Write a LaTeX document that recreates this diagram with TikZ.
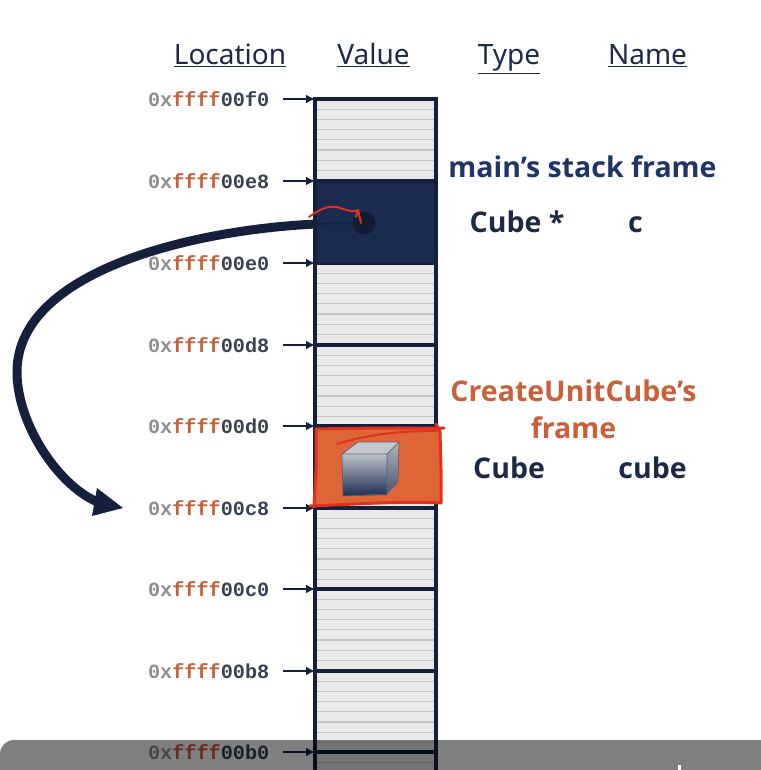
\documentclass[tikz,border=0pt]{standalone}
\usepackage{fontspec}
\usetikzlibrary{arrows.meta,calc,shapes.geometric}
\setmainfont{Noto Sans}
\newfontfamily\addrfont{Liberation Mono}
\newfontfamily\labfont{Open Sans}
\definecolor{navy}{HTML}{1A2B4F}
\definecolor{inknavy}{HTML}{14203C}
\definecolor{titleblue}{HTML}{1F3468}
\definecolor{rust}{HTML}{C9603A}
\definecolor{scribble}{HTML}{E0301E}
\definecolor{fillorange}{HTML}{DE6535}
\definecolor{cellgrey}{HTML}{E9E9E9}
\definecolor{lineg}{HTML}{C6C6C6}
\definecolor{txtdark}{HTML}{1E2A45}
\definecolor{addrdark}{HTML}{3A4252}
\definecolor{addrgrey}{HTML}{8E8E8E}
\definecolor{cubetop}{HTML}{C4C8CE}
\definecolor{cubehi}{HTML}{BDC2C9}
\definecolor{cubelo}{HTML}{1E2E52}
\definecolor{cubesidehi}{HTML}{B0B5BC}
\definecolor{cubesidelo}{HTML}{4A5670}
\tikzset{
  cellbox/.style={draw=inknavy,line width=3.2pt,fill=cellgrey,minimum width=121pt,minimum height=81.5pt,inner sep=0pt,outer sep=0pt},
  addr/.style={font=\addrfont\bfseries\fontsize{20.2}{21}\selectfont,anchor=east,inner sep=0pt},
  ptr/.style={-{Latex[length=9pt,width=9pt]},draw=inknavy,line width=2pt},
  head/.style={font=\fontsize{28}{32}\selectfont,text=txtdark,inner sep=0pt,anchor=base},
  lab/.style={font=\labfont\bfseries\fontsize{28.5}{32}\selectfont,text=txtdark,inner sep=0pt,anchor=base},
  ruled/.style={draw=lineg,line width=1.3pt},
  redpen/.style={draw=scribble,line width=1.6pt,line cap=round,line join=round}
}
\newcommand{\addrtext}[1]{{\color{addrgrey}0x}{\color{rust}ffff}{\color{addrdark}#1}}
\begin{document}
\begin{tikzpicture}[x=1pt,y=-1pt]
\useasboundingbox (0,0) rectangle (760,770);
\fill[white] (0,0) rectangle (760,770);
% header
\node[head] (hloc) at (230,65) {\underline{Location}};
\node[head] (hval) at (373.5,65) {\underline{Value}};
\node[head] (htyp) at (509,65) {\underline{Type}};
\node[head] (hnam) at (647.5,65) {\underline{Name}};
% cells
\foreach \i/\ya in {0/99,1/181,2/263,3/345,4/426,5/508,6/589,7/671,8/752}{
  \pgfmathsetmacro{\ym}{\ya+40.75}
  \node[cellbox] (c\i) at (375.5,\ym) {};
  \foreach \k in {1,...,7}{
    \draw[ruled] (317,\ya+\k*10.2) -- (434,\ya+\k*10.2);
  }
}
% navy frame
\node[cellbox,fill=navy,minimum height=82pt] (mainf) at (375.5,222.5) {};
% orange frame, painted over the cell
\node[cellbox,fill=cellgrey,minimum height=81pt] (cubef) at (375.5,467) {};
\fill[fillorange,line join=round] (314,505) -- (316,470) -- (316,429) .. controls (360,428) and (400,428) .. (441,428) -- (441,470) -- (441,503) .. controls (400,500) and (360,504) .. (314,505) -- cycle;
% re-draw top edge
\draw[inknavy,line width=3.6pt] (c0.north west) -- (c0.north east);
% addresses
\foreach \i/\ya/\t in {0/99/00f0,1/181/00e8,2/263/00e0,3/345/00d8,4/426/00d0,5/508/00c8,6/589/00c0,7/671/00b8,8/752/00b0}{
  \node[addr] (a\i) at (269.5,\ya+0.5) {\addrtext{\t}};
  \coordinate (t\i) at (315,\ya);
  \draw[ptr] (283,\ya) -- (t\i);
}
% red marks on cube frame
\draw[redpen,line width=3pt] (314,507) -- (316,470) -- (316,429) .. controls (360,428) and (400,428) .. (444,428);
\draw[redpen,line width=3pt] (436,424) -- (440,432) -- (441,470) -- (441,503) (310,506) .. controls (360,504) and (400,501) .. (441,503);
% cube
\shade[top color=cubehi,bottom color=cubelo] (342,454) -- (387,454) -- (387,495) -- (343,496) -- cycle;
\fill[cubetop] (342,454) -- (358,442) -- (399,442) -- (387,454) -- cycle;
\shade[top color=cubesidehi,bottom color=cubesidelo] (387,454) -- (399,442) -- (398,482) -- (387,494) -- cycle;
\draw[inknavy!70,line width=.7pt,line join=round] (342,454) -- (358,442) -- (399,442) -- (398,482) -- (387,494) -- (343,496) -- cycle (342,454) -- (387,454) -- (399,442) (387,454) -- (387,494);
\draw[redpen,line width=2pt] (337,444) .. controls (370,434) and (400,431) .. (436,431);
% pointer
\node[circle,fill=inknavy!85!black,minimum size=23pt,inner sep=0pt] (dot) at (364,223) {};
\coordinate (entry) at (316,224);
\coordinate (tip) at (123,508);
\draw[inknavy,line width=1.5pt,dash pattern=on 3pt off 1pt] (entry) -- (dot);
\draw[inknavy,line width=9pt] (entry) .. controls (190,230) and (17,272) .. (17,372) .. controls (17,425) and (60,488) .. (100,503);
\fill[inknavy] (tip) -- (97,488) -- (92,516) -- cycle;
% red mark at the pointer
\draw[redpen,line width=2pt] (309,217) .. controls (322,207) and (332,205) .. (340,208) .. controls (347,210) and (354,213) .. (358,210) -- (361,223) (358,210) -- (356,217);
% labels
\node[lab,text=titleblue] (mainl) at (582.5,177) {main’s stack frame};
\node[lab] (tc) at (517,232) {Cube *};
\node[lab] (nc) at (635.5,232) {c};
\node[lab,text=rust] (cl) at (573.5,401) {CreateUnitCube’s};
\node[lab,text=rust] (fl) at (573.5,438) {frame};
\node[lab] (tcube) at (509,478) {Cube};
\node[lab] (ncube) at (652.5,478) {cube};
% lower overlay
\fill[black,opacity=.5,rounded corners=14pt] (0,800) rectangle (800,740);
\fill[white] (678,765) rectangle (681,770);
\end{tikzpicture}
\end{document}
